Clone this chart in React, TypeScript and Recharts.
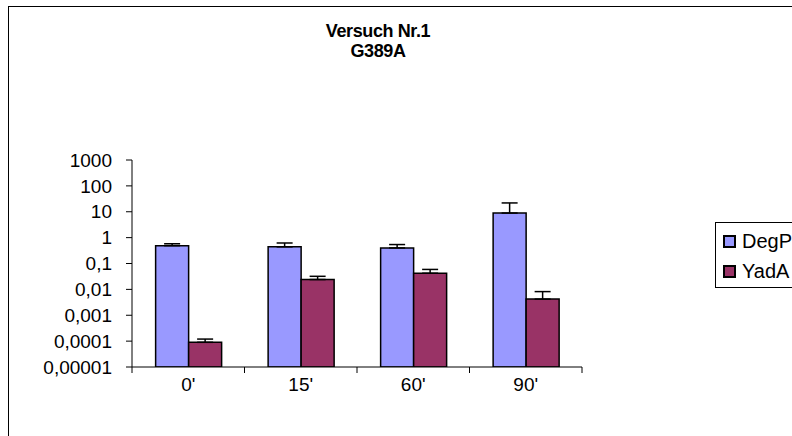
import { Bar, BarChart, ErrorBar, XAxis, YAxis } from 'recharts'

const categories = ["0'", "15'", "60'", "90'"]
const degP = [0.49, 0.44, 0.4, 8.9]
const degPErr = [0.09, 0.18, 0.14, 13]
const yadA = [0.00009, 0.024, 0.042, 0.0042]
const yadAErr = [0.00003, 0.008, 0.017, 0.004]
const yTicks = [0.00001, 0.0001, 0.001, 0.01, 0.1, 1, 10, 100, 1000]

const series = [
  { name: 'DegP', err: 'degPErr', color: '#9999FF' },
  { name: 'YadA', err: 'yadAErr', color: '#993366' },
]

const FONT = '"Liberation Sans", Arial, sans-serif'

const rows = categories.map((time, i) => ({
  time,
  DegP: degP[i],
  degPErr: [0, degPErr[i]],
  YadA: yadA[i],
  yadAErr: [0, yadAErr[i]],
}))

/** Category tick: label in the band centre, tick mark at the band edges. */
function TimeTick(props: any) {
  const { x, y, payload, index } = props
  const half = payload.offset ?? 0
  const top = y - 8
  return (
    <g>
      <line x1={x - half} y1={top} x2={x - half} y2={top + 6} stroke="#000" />
      {index === categories.length - 1 && (
        <line x1={x + half} y1={top} x2={x + half} y2={top + 6} stroke="#000" />
      )}
      <text x={x} y={y + 16} textAnchor="middle" fontSize={19} fontFamily={FONT} fill="#000">
        {payload.value}
      </text>
    </g>
  )
}

export default function App() {
  return (
    <div
      style={{
        position: 'fixed',
        left: 0,
        top: 0,
        width: 792,
        height: 436,
        overflow: 'hidden',
        background: '#fff',
      }}
    >
      <div
        style={{
          position: 'absolute',
          left: 8,
          top: 6,
          width: 900,
          height: 500,
          border: '1px solid #000',
        }}
      />
      <div
        style={{
          position: 'absolute',
          left: 278,
          width: 200,
          top: 21,
          textAlign: 'center',
          fontFamily: FONT,
          fontWeight: 'bold',
          fontSize: 18,
          letterSpacing: -0.4,
          lineHeight: '20px',
        }}
      >
        <div>Versuch Nr.1</div>
        <div>G389A</div>
      </div>
      <div style={{ position: 'absolute', left: 0, top: 0 }}>
        <BarChart
          width={792}
          height={436}
          data={rows}
          margin={{ top: 160, right: 210, left: 52, bottom: 39 }}
          barCategoryGap="21%"
          barGap={0}
        >
          <XAxis
            dataKey="time"
            axisLine={{ stroke: '#000' }}
            tickLine={false}
            tick={<TimeTick />}
            height={30}
            interval={0}
          />
          <YAxis
            scale="log"
            domain={[0.00001, 1000]}
            ticks={yTicks}
            allowDataOverflow
            width={80}
            interval={0}
            axisLine={{ stroke: '#000' }}
            tickLine={{ stroke: '#000' }}
            tickSize={6}
            tickMargin={14}
            tick={{ fontSize: 19, fill: '#000', fontFamily: FONT }}
            tickFormatter={(v: number) => String(v).replace('.', ',')}
          />
          {series.map((s) => (
            <Bar
              key={s.name}
              dataKey={s.name}
              fill={s.color}
              stroke="#000"
              strokeWidth={1.5}
              isAnimationActive={false}
            >
              <ErrorBar dataKey={s.err} width={8} stroke="#000" strokeWidth={1.5} />
            </Bar>
          ))}
        </BarChart>
      </div>
      <div
        style={{
          position: 'absolute',
          left: 715,
          top: 222,
          width: 110,
          height: 66,
          boxSizing: 'border-box',
          border: '1px solid #000',
          background: '#fff',
          padding: '3px 0 0 7px',
          fontFamily: FONT,
          fontSize: 20,
        }}
      >
        {series.map((s) => (
          <div key={s.name} style={{ display: 'flex', alignItems: 'center', height: 30 }}>
            <span
              style={{
                width: 9,
                height: 9,
                background: s.color,
                border: '2px solid #000',
                marginRight: 6,
              }}
            />
            {s.name}
          </div>
        ))}
      </div>
    </div>
  )
}
